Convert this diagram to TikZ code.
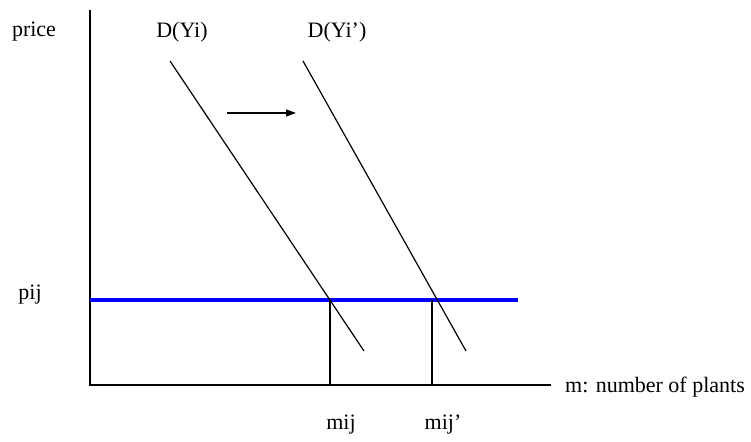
\documentclass[tikz,border=0pt]{standalone}
\usepackage{fontspec}
\setmainfont{Liberation Serif}
\usetikzlibrary{arrows.meta}

\begin{document}
\begin{tikzpicture}[x=1pt,y=-1pt,
  lbl/.style={inner sep=0pt,font=\fontsize{22}{26}\selectfont},
  curve/.style={line width=1.2pt},
  axis/.style={line width=1.5pt}]
\useasboundingbox (0,0) rectangle (751,441);

% axes
\coordinate (O) at (90,385);
\coordinate (ytop) at (90,10);
\coordinate (xend) at (551,385);
\draw[axis] (ytop) -- (O) -- (xend);

% price line
\coordinate (pl) at (90,300);
\coordinate (pr) at (518,300);
\draw[blue,line width=4pt] (pl) -- (pr);

% demand curves
\coordinate (d1a) at (170,61);
\coordinate (d1b) at (364,351);
\coordinate (d2a) at (303,61);
\coordinate (d2b) at (466,351);
\draw[curve] (d1a) -- (d1b);
\draw[curve] (d2a) -- (d2b);

% drops to the axis
\coordinate (m1top) at (330,300);
\coordinate (m1bot) at (330,385);
\coordinate (m2top) at (432,300);
\coordinate (m2bot) at (432,385);
\draw[curve] (m1top) -- (m1bot);
\draw[curve] (m2top) -- (m2bot);

% shift arrow
\coordinate (sa) at (227,113);
\coordinate (sb) at (296,113);
\draw[curve,-{Triangle[length=10pt,width=7pt]}] (sa) -- (sb);

% labels
\node[lbl] (price) at (34,32) {price};
\node[lbl] (dyi) at (182,32) {D(Yi)};
\node[lbl] (dyip) at (337,32) {D(Yi’)};
\node[lbl] (pij) at (30,295) {pij};
\node[lbl] (mij) at (341,425) {mij};
\node[lbl] (mijp) at (443,425) {mij’};
\node[lbl,anchor=west] (mlab) at (565,387) {m: number of plants};
\end{tikzpicture}
\end{document}
